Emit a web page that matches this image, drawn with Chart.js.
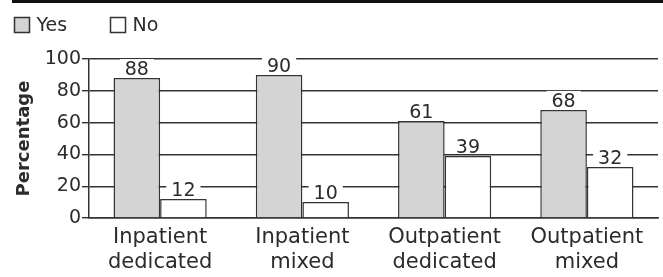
<!DOCTYPE html>
<html><head><meta charset="utf-8">
<script src="https://cdn.jsdelivr.net/npm/chart.js@4"></script>
<style>html,body{margin:0;padding:0;background:#fff;}#wrap{position:relative;width:663px;height:277px;}</style>
</head><body>
<div id="wrap"><canvas id="c" width="663" height="277"></canvas></div>
<script>
const categories = [["Inpatient","dedicated"],["Inpatient","mixed"],["Outpatient","dedicated"],["Outpatient","mixed"]];
const seriesNames = ["Yes", "No"];
const yesValues = [88, 90, 61, 68];
const noValues = [12, 10, 39, 32];
const yTicks = [0, 20, 40, 60, 80, 100];
const FONT = "'DejaVu Sans', sans-serif";
const INK = '#2b2b2b';

const topRule = {
  id: 'topRule',
  afterDraw(chart) {
    const ctx = chart.ctx;
    ctx.save();
    ctx.strokeStyle = '#111';
    ctx.lineWidth = 3;
    ctx.beginPath();
    ctx.moveTo(12, 1.5);
    ctx.lineTo(663, 1.5);
    ctx.stroke();
    ctx.restore();
  }
};

const customLegend = {
  id: 'customLegend',
  afterDraw(chart) {
    const ctx = chart.ctx;
    ctx.save();
    ctx.font = '19px ' + FONT;
    ctx.textBaseline = 'middle';
    const xs = [14.5, 110.5];
    chart.data.datasets.forEach((ds, i) => {
      const x = xs[i];
      ctx.fillStyle = ds.backgroundColor;
      ctx.fillRect(x, 17.5, 15, 15);
      ctx.strokeStyle = '#333';
      ctx.lineWidth = 1.5;
      ctx.strokeRect(x, 17.5, 15, 15);
      ctx.fillStyle = INK;
      ctx.fillText(ds.label, x + 22, 26);
    });
    ctx.restore();
  }
};

const valueLabels = {
  id: 'valueLabels',
  afterDatasetsDraw(chart) {
    const ctx = chart.ctx;
    ctx.save();
    ctx.font = '19px ' + FONT;
    ctx.textAlign = 'center';
    ctx.textBaseline = 'alphabetic';
    chart.data.datasets.forEach((ds, di) => {
      const meta = chart.getDatasetMeta(di);
      meta.data.forEach((bar, i) => {
        const t = String(ds.data[i]);
        const w = ctx.measureText(t).width;
        const base = bar.y - 3;
        ctx.fillStyle = '#fff';
        ctx.fillRect(bar.x - w / 2 - 5, base - 16, w + 10, 16);
        ctx.fillStyle = INK;
        ctx.fillText(t, bar.x, base);
      });
    });
    ctx.restore();
  }
};

new Chart(document.getElementById('c'), {
  type: 'bar',
  data: {
    labels: categories,
    datasets: [
      { label: seriesNames[0], data: yesValues, backgroundColor: '#d4d4d4', borderColor: '#333', borderWidth: 1.5,
        categoryPercentage: 0.655, barPercentage: 1.0 },
      { label: seriesNames[1], data: noValues, backgroundColor: '#ffffff', borderColor: '#333', borderWidth: 1.5,
        categoryPercentage: 0.655, barPercentage: 1.0 }
    ]
  },
  options: {
    responsive: false,
    animation: false,
    devicePixelRatio: 1,
    layout: { padding: { left: 0, right: 5, top: 59, bottom: 0 } },
    plugins: {
      tooltip: { enabled: false },
      legend: { display: false }
    },
    scales: {
      x: {
        grid: { display: false, drawTicks: false },
        border: { display: true, color: '#333', width: 1.5 },
        ticks: { color: INK, font: { family: FONT, size: 21, lineHeight: 1.2 }, padding: 7, maxRotation: 0, autoSkip: false },
        afterFit(s) { s.height = 59; }
      },
      y: {
        min: 0, max: 100,
        afterBuildTicks(s) { s.ticks = yTicks.map(v => ({ value: v })); },
        grid: { color: '#333', lineWidth: 1.4, tickLength: 7, drawTicks: true },
        border: { display: true, color: '#333', width: 1.5 },
        ticks: { color: INK, font: { family: FONT, size: 19 }, padding: 1 },
        title: { display: true, text: 'Percentage', color: INK, font: { family: FONT, size: 18, weight: 'bold' }, padding: { top: 14, bottom: 0 } },
        afterFit(s) { s.width = 89; }
      }
    }
  },
  plugins: [topRule, valueLabels, customLegend]
});
</script>
</body></html>
